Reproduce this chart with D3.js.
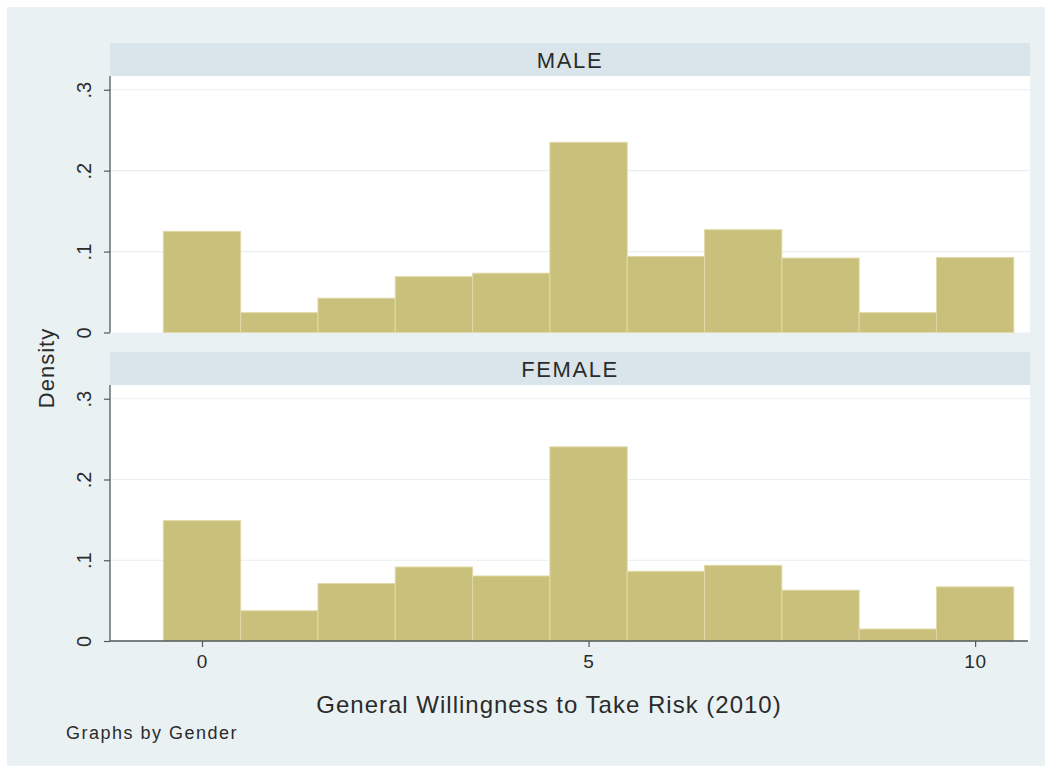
<!DOCTYPE html>
<html>
<head>
<meta charset="utf-8">
<script src="https://cdn.jsdelivr.net/npm/d3@7"></script>
<style>
  html, body { margin: 0; padding: 0; background: #ffffff; }
  svg { display: block; font-family: "Liberation Sans", Arial, sans-serif; }
</style>
</head>
<body>
<svg id="chart" width="1052" height="771"></svg>
<script>
// Risk-willingness scale (0-10), one bin per integer value
const categories = [0, 1, 2, 3, 4, 5, 6, 7, 8, 9, 10];
const panels = ["MALE", "FEMALE"];
const maleDensity   = [0.125, 0.0245, 0.0424, 0.069, 0.0733, 0.235, 0.094, 0.127, 0.092, 0.0245, 0.0927];
const femaleDensity = [0.149, 0.0374, 0.0711, 0.0916, 0.0805, 0.2404, 0.0863, 0.0937, 0.0629, 0.0148, 0.067];
const yTicks = [0, 0.1, 0.2, 0.3];
const yTickLabels = ["0", ".1", ".2", ".3"];
const xTicks = [0, 5, 10];

const series = [maleDensity, femaleDensity];

const svg = d3.select("#chart");

// Graph region background
svg.append("rect").attr("x", 7).attr("y", 7).attr("width", 1038).attr("height", 759)
  .attr("fill", "#eaf1f3");

const x = d3.scaleLinear().domain([-1.19, 10.71]).range([110, 1030]);

const layout = [
  { headTop: 43, plotTop: 76, plotBottom: 332.5 },
  { headTop: 352, plotTop: 385, plotBottom: 641 }
];

const barFill = "#c9c07b";
const barEdge = "#e0d9a6";
const axisColor = "#505a5e";
const textColor = "#2b2b2b";

layout.forEach((L, i) => {
  const y = d3.scaleLinear().domain([0, 0.317]).range([L.plotBottom, L.plotTop]);
  const g = svg.append("g");

  // header strip
  g.append("rect").attr("x", 110).attr("y", L.headTop)
    .attr("width", 920).attr("height", L.plotTop - L.headTop)
    .attr("fill", "#d9e5ea");
  g.append("text").attr("x", 570).attr("y", L.plotTop - 8)
    .attr("text-anchor", "middle").attr("font-size", 22)
    .attr("letter-spacing", 1.6).attr("fill", textColor)
    .text(panels[i]);

  // plot region
  g.append("rect").attr("x", 110).attr("y", L.plotTop)
    .attr("width", 920).attr("height", L.plotBottom - L.plotTop)
    .attr("fill", "#ffffff");

  // gridlines
  g.selectAll("line.grid").data(yTicks.slice(1)).enter().append("line")
    .attr("class", "grid")
    .attr("x1", 110).attr("x2", 1030)
    .attr("y1", d => y(d)).attr("y2", d => y(d))
    .attr("stroke", "#e8eef1").attr("stroke-width", 1.2);

  // histogram bars
  g.selectAll("rect.bar").data(categories).enter().append("rect")
    .attr("class", "bar")
    .attr("x", d => x(d - 0.5))
    .attr("width", d => x(d + 0.5) - x(d - 0.5))
    .attr("y", (d, j) => y(series[i][j]))
    .attr("height", (d, j) => y(0) - y(series[i][j]))
    .attr("fill", barFill)
    .attr("stroke", barEdge).attr("stroke-width", 1);

  // y axis
  const yAxis = d3.axisLeft(y).tickValues(yTicks)
    .tickFormat((d, k) => yTickLabels[k]).tickSize(6).tickPadding(0);
  const ya = g.append("g").attr("transform", "translate(110,0)").call(yAxis);
  ya.select(".domain").attr("stroke", axisColor).attr("stroke-width", 1.3)
    .attr("d", `M0,${L.plotTop}V${L.plotBottom}`);
  ya.selectAll(".tick line").attr("stroke", axisColor).attr("stroke-width", 1.2);
  ya.selectAll(".tick text")
    .attr("font-size", 20).attr("fill", textColor)
    .attr("font-family", "Liberation Sans, Arial, sans-serif")
    .attr("text-anchor", "middle").attr("dy", null).attr("x", null)
    .attr("transform", "translate(-26,0) rotate(-90)")
    .attr("dominant-baseline", "central");

  // x axis on the lower panel only
  if (i === layout.length - 1) {
    const xAxis = d3.axisBottom(x).tickValues(xTicks).tickFormat(d3.format("d"))
      .tickSize(6).tickPadding(8);
    const xa = g.append("g").attr("transform", `translate(0,${L.plotBottom})`).call(xAxis);
    xa.select(".domain").attr("stroke", axisColor).attr("stroke-width", 1.4)
      .attr("d", "M110,0H1028");
    xa.selectAll(".tick line").attr("stroke", axisColor).attr("stroke-width", 1.2);
    xa.selectAll(".tick text").attr("font-size", 19).attr("fill", textColor)
      .attr("letter-spacing", 0.8)
      .attr("font-family", "Liberation Sans, Arial, sans-serif");
  }
});

// axis titles and note
svg.append("text").attr("transform", "translate(54,368) rotate(-90)")
  .attr("text-anchor", "middle").attr("font-size", 22)
  .attr("letter-spacing", 1).attr("fill", textColor)
  .text("Density");
svg.append("text").attr("x", 549).attr("y", 713)
  .attr("text-anchor", "middle").attr("font-size", 24)
  .attr("letter-spacing", 1).attr("fill", textColor)
  .text("General Willingness to Take Risk (2010)");
svg.append("text").attr("x", 66).attr("y", 739)
  .attr("font-size", 18).attr("letter-spacing", 1.5).attr("fill", textColor)
  .text("Graphs by Gender");
</script>
</body>
</html>
